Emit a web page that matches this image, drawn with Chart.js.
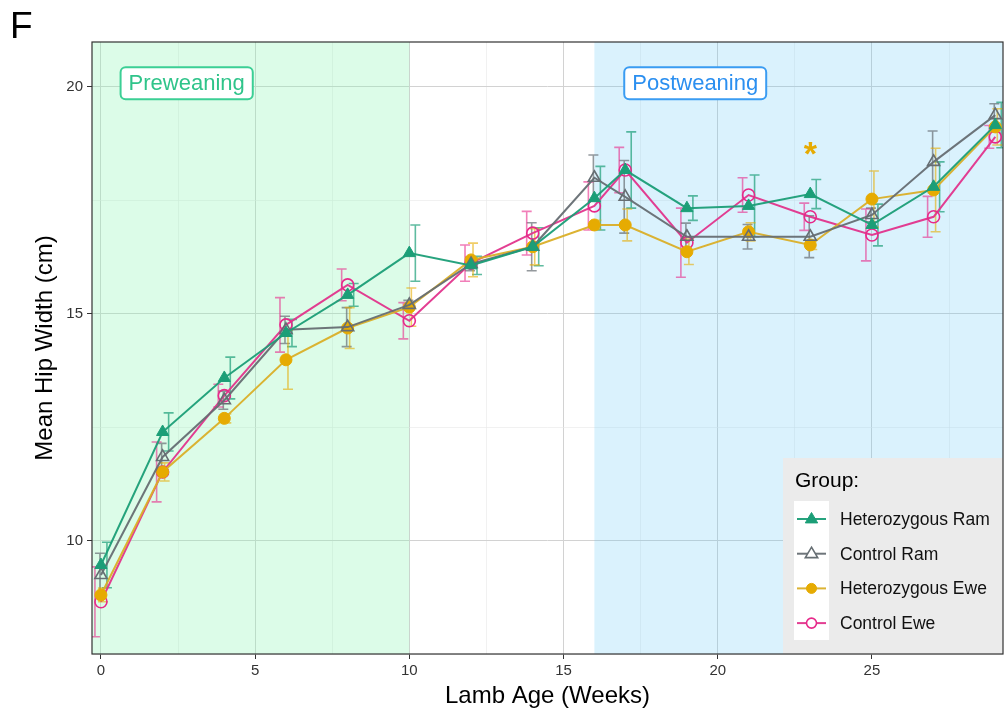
<!DOCTYPE html>
<html>
<head>
<meta charset="utf-8">
<script src="https://cdn.jsdelivr.net/npm/chart.js@4.4.1/dist/chart.umd.min.js"></script>
<style>
  html, body { margin: 0; padding: 0; background: #ffffff; overflow: hidden; }
  #wrap { position: relative; width: 1005px; height: 719px; }
</style>
</head>
<body>
<div id="wrap"><canvas id="c" width="1005" height="719"></canvas></div>
<script>
// ---------- data ----------
const weeks = [0, 2, 4, 6, 8, 10, 12, 14, 16, 17, 19, 21, 23, 25, 27, 29];

const hetRam     = [9.47, 12.40, 13.59, 14.58, 15.42, 16.34, 16.07, 16.48, 17.55, 18.17, 17.33, 17.38, 17.64, 16.96, 17.80, 19.16];
const hetRamErr  = [0.50, 0.42, 0.46, 0.30, 0.25, 0.62, 0.20, 0.42, 0.70, 0.84, 0.27, 0.68, 0.32, 0.46, 0.55, 0.50];

const ctrlRam    = [9.25, 11.85, 13.10, 14.65, 14.71, 15.20, 16.10, 16.48, 18.00, 17.58, 16.70, 16.70, 16.70, 17.18, 18.35, 19.38];
const ctrlRamErr = [0.48, 0.30, 0.20, 0.30, 0.43, 0.10, 0.15, 0.53, 0.50, 0.80, 0.30, 0.27, 0.46, 0.15, 0.68, 0.25];

const hetEwe     = [8.81, 11.52, 12.70, 13.99, 14.69, 15.15, 16.19, 16.48, 16.96, 16.96, 16.37, 16.81, 16.52, 17.53, 17.73, 19.12];
const hetEweErr  = [0.15, 0.20, 0.10, 0.65, 0.45, 0.42, 0.37, 0.40, 0.10, 0.35, 0.28, 0.20, 0.10, 0.62, 0.92, 0.40];

const ctrlEwe    = [8.66, 11.52, 13.20, 14.76, 15.64, 14.85, 16.12, 16.78, 17.38, 18.17, 16.57, 17.62, 17.14, 16.74, 17.14, 18.90];
const ctrlEweErr = [0.77, 0.66, 0.25, 0.60, 0.35, 0.40, 0.40, 0.48, 0.53, 0.50, 0.76, 0.38, 0.30, 0.57, 0.45, 0.25];

const groupNames = ['Heterozygous Ram', 'Control Ram', 'Heterozygous Ewe', 'Control Ewe'];

const xTicks = [0, 2.5, 5, 7.5, 10, 12.5, 15, 17.5, 20, 22.5, 25, 27.5];
const yTicks = [7.5, 10, 12.5, 15, 17.5, 20];

const phases = [
  { label: 'Preweaning',  from: -1, to: 10, labelWeek: 2.78 },
  { label: 'Postweaning', from: 16, to: 30, labelWeek: 19.27 }
];
const phaseLabelValue = 20.08;
const starWeek = 23, starValue = 18.62;

// ---------- styles ----------
const FONT = '"Liberation Sans", Arial, Helvetica, sans-serif';
const styles = [
  { color: '#1b9e77', line: 'rgba(27,158,119,0.95)',  err: 'rgba(27,158,119,0.7)',  point: 'triangle', fill: true,  dodge: 6 },
  { color: '#666e73', line: 'rgba(102,110,115,0.95)', err: 'rgba(102,110,115,0.7)', point: 'triangle', fill: false, dodge: -1 },
  { color: '#e6ab02', line: 'rgba(218,175,40,0.95)',  err: 'rgba(230,171,2,0.6)',   point: 'circle',   fill: true,  dodge: 2 },
  { color: '#e7298a', line: 'rgba(226,52,140,0.95)',  err: 'rgba(231,41,138,0.6)',  point: 'circle',   fill: false, dodge: -6 }
];
const series = [hetRam, ctrlRam, hetEwe, ctrlEwe];
const errs = [hetRamErr, ctrlRamErr, hetEweErr, ctrlEweErr];

const datasets = series.map((vals, i) => ({
  label: groupNames[i],
  data: weeks.map((w, j) => ({ x: w, y: vals[j] })),
  borderColor: styles[i].line,
  borderWidth: 2,
  pointStyle: styles[i].point,
  pointRadius: styles[i].point === 'triangle' ? 7 : 6,
  pointHoverRadius: 6,
  pointBackgroundColor: styles[i].fill ? styles[i].color : 'rgba(0,0,0,0)',
  pointBorderColor: styles[i].color,
  pointBorderWidth: styles[i].fill ? 1 : 1.6,
  tension: 0,
  fill: false
}));

// ---------- plugins ----------
const shadePlugin = {
  id: 'shade',
  beforeDatasetsDraw(chart) {
    const { ctx, chartArea: a, scales: { x, y } } = chart;
    ctx.save();
    ctx.beginPath(); ctx.rect(a.left, a.top, a.right - a.left, a.bottom - a.top); ctx.clip();
    const fills = ['rgba(140,245,180,0.30)', 'rgba(100,200,245,0.24)'];
    phases.forEach((p, i) => {
      const x0 = Math.max(a.left, x.getPixelForValue(p.from));
      const x1 = Math.min(a.right, x.getPixelForValue(p.to));
      ctx.fillStyle = fills[i];
      ctx.fillRect(x0, a.top, x1 - x0, a.bottom - a.top);
    });
    // error bars
    errs.forEach((e, i) => {
      ctx.strokeStyle = styles[i].err;
      ctx.lineWidth = 1.6;
      weeks.forEach((w, j) => {
        const px = x.getPixelForValue(w) + styles[i].dodge;
        const top = y.getPixelForValue(series[i][j] + e[j]);
        const bot = y.getPixelForValue(series[i][j] - e[j]);
        ctx.beginPath();
        ctx.moveTo(px, top); ctx.lineTo(px, bot);
        ctx.moveTo(px - 5, top); ctx.lineTo(px + 5, top);
        ctx.moveTo(px - 5, bot); ctx.lineTo(px + 5, bot);
        ctx.stroke();
      });
    });
    ctx.restore();

    // phase labels
    const boxCols = [{ b: '#3ccf95', t: '#2fc48a' }, { b: '#3a9cf2', t: '#2b8ff0' }];
    ctx.save();
    ctx.font = '22px ' + FONT;
    ctx.textBaseline = 'middle';
    ctx.textAlign = 'center';
    const labelY = y.getPixelForValue(phaseLabelValue);
    phases.forEach((p, i) => {
      const cx = x.getPixelForValue(p.labelWeek);
      const w = ctx.measureText(p.label).width + 16;
      const h = 32;
      const rx = cx - w / 2, ry = labelY - h / 2;
      ctx.beginPath();
      ctx.roundRect(rx, ry, w, h, 5);
      ctx.fillStyle = '#ffffff';
      ctx.fill();
      ctx.lineWidth = 2;
      ctx.strokeStyle = boxCols[i].b;
      ctx.stroke();
      ctx.fillStyle = boxCols[i].t;
      ctx.fillText(p.label, cx, labelY + 1);
    });
    // asterisk
    ctx.fillStyle = '#e6ab02';
    ctx.font = 'bold 34px ' + FONT;
    ctx.fillText('*', x.getPixelForValue(starWeek), y.getPixelForValue(starValue) + 6);
    ctx.restore();
  },
  afterDatasetsDraw(chart) {
    const { ctx, chartArea: a } = chart;
    ctx.save();
    // legend
    const lx = 783, ly = 458, lw = a.right - lx, lh = a.bottom - ly;
    ctx.fillStyle = '#ebebeb';
    ctx.fillRect(lx, ly, lw, lh);
    ctx.fillStyle = '#ffffff';
    ctx.fillRect(794, 501, 35, 139);
    ctx.fillStyle = '#000';
    ctx.font = '21px ' + FONT;
    ctx.textBaseline = 'middle';
    ctx.textAlign = 'left';
    ctx.fillText('Group:', 795, 481);
    ctx.font = '17.5px ' + FONT;
    groupNames.forEach((name, i) => {
      const yy = 519 + i * 34.7;
      ctx.strokeStyle = styles[i].line;
      ctx.lineWidth = 2;
      ctx.beginPath(); ctx.moveTo(797, yy); ctx.lineTo(826, yy); ctx.stroke();
      const mx = 811.5;
      ctx.lineWidth = styles[i].fill ? 1 : 1.6;
      ctx.strokeStyle = styles[i].color;
      ctx.fillStyle = styles[i].color;
      ctx.beginPath();
      if (styles[i].point === 'triangle') {
        const r = 6.5;
        ctx.moveTo(mx, yy - r);
        ctx.lineTo(mx + r * 0.95, yy + r * 0.6);
        ctx.lineTo(mx - r * 0.95, yy + r * 0.6);
        ctx.closePath();
      } else {
        ctx.arc(mx, yy, 5, 0, Math.PI * 2);
      }
      if (styles[i].fill) ctx.fill();
      else { ctx.fillStyle = '#ffffff'; ctx.fill(); }
      ctx.stroke();
      ctx.fillStyle = '#111';
      ctx.fillText(name, 840, yy + 1);
    });
    // panel border
    ctx.strokeStyle = '#333333';
    ctx.lineWidth = 1.2;
    ctx.strokeRect(a.left, a.top, a.right - a.left, a.bottom - a.top);
    // panel tag
    ctx.fillStyle = '#000';
    ctx.font = '37px ' + FONT;
    ctx.textBaseline = 'alphabetic';
    ctx.fillText('F', 10, 38);
    ctx.restore();
  }
};

const isMajor = v => Math.abs(v % 5) < 1e-9;

new Chart(document.getElementById('c'), {
  type: 'line',
  data: { datasets },
  options: {
    responsive: false,
    animation: false,
    layout: { autoPadding: false, padding: { top: 42, right: 2, left: 0, bottom: 0 } },
    plugins: { legend: { display: false }, tooltip: { enabled: false } },
    scales: {
      x: {
        type: 'linear',
        min: -0.29, max: 29.25,
        afterBuildTicks: s => { s.ticks = xTicks.map(v => ({ value: v })); },
        afterFit: s => { s.height = 65; },
        ticks: {
          autoSkip: false, maxRotation: 0, padding: 3,
          color: '#333', font: { family: FONT, size: 15 },
          callback: v => isMajor(v) ? String(v) : ''
        },
        grid: {
          color: c => isMajor(c.tick.value) ? '#d2d2d2' : '#e8e8e8',
          lineWidth: c => isMajor(c.tick.value) ? 1 : 0.6,
          tickColor: c => isMajor(c.tick.value) ? '#333' : 'rgba(0,0,0,0)',
          tickLength: 5
        },
        border: { display: false },
        title: { display: true, text: 'Lamb Age (Weeks)', color: '#000', font: { family: FONT, size: 24 }, padding: { bottom: 8, top: 0 } }
      },
      y: {
        type: 'linear',
        min: 7.51, max: 20.99,
        afterBuildTicks: s => { s.ticks = yTicks.map(v => ({ value: v })); },
        afterFit: s => { s.width = 92; },
        ticks: {
          autoSkip: false, padding: 4,
          color: '#333', font: { family: FONT, size: 15 },
          callback: v => isMajor(v) ? String(v) : ''
        },
        grid: {
          color: c => isMajor(c.tick.value) ? '#d2d2d2' : '#e8e8e8',
          lineWidth: c => isMajor(c.tick.value) ? 1 : 0.6,
          tickColor: c => isMajor(c.tick.value) ? '#333' : 'rgba(0,0,0,0)',
          tickLength: 5
        },
        border: { display: false },
        title: { display: true, text: 'Mean Hip Width (cm)', color: '#000', font: { family: FONT, size: 24 }, padding: { top: 31, bottom: 0 } }
      }
    }
  },
  plugins: [shadePlugin]
});
</script>
</body>
</html>
